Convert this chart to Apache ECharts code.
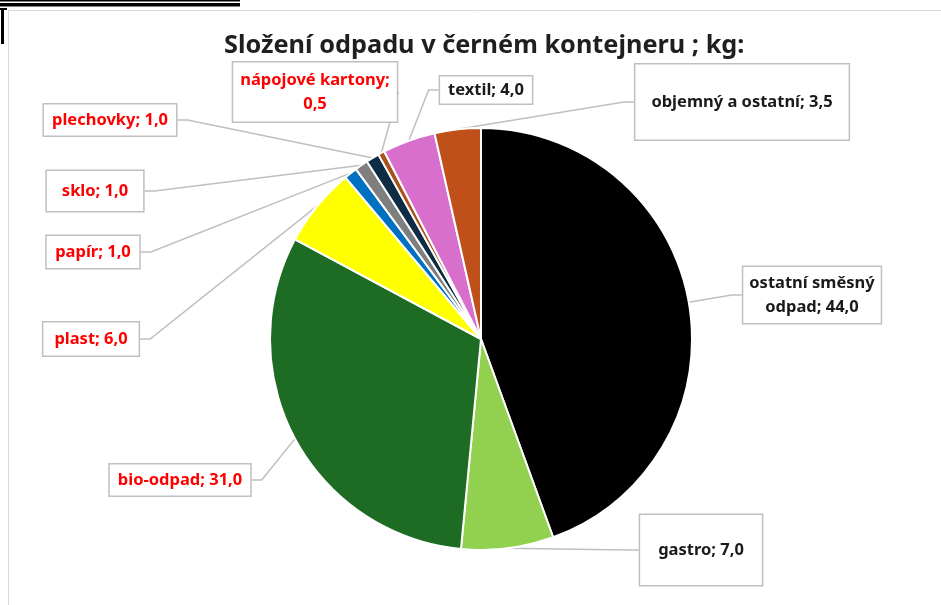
<!DOCTYPE html>
<html>
<head>
<meta charset="utf-8">
<script src="https://cdn.jsdelivr.net/npm/echarts@6/dist/echarts.min.js"></script>
<style>
html,body{margin:0;padding:0;background:#fff;}
#main{width:941px;height:605px;}
</style>
</head>
<body>
<div id="main"></div>
<script>
// ---- data ----
const categories = ['ostatní směsný odpad','gastro','bio-odpad','plast','papír','sklo','plechovky','nápojové kartony','textil','objemný a ostatní'];
const values = [44.0, 7.0, 31.0, 6.0, 1.0, 1.0, 1.0, 0.5, 4.0, 3.5];
const titleText = 'Složení odpadu v černém kontejneru ; kg:';

// ---- styles ----
const sliceColors = ['#000000','#92d050','#1e6b24','#ffff00','#0070c0','#7f7f7f','#0e2d45','#a9521c','#d86fcd','#c0501a'];
const labelColors = ['#1a1a1a','#1a1a1a','#ff0000','#ff0000','#ff0000','#ff0000','#ff0000','#ff0000','#1a1a1a','#1a1a1a'];
// label box centers and paddings (layout)
const labelCenters = [[812,295],[701,550],[180,480],[91,339],[93,252],[95,191],[110,120],[315,92],[486,90],[742,102]];
const labelPads = [[4,6],[23,18],[3.5,8],[4.5,11],[4,8.5],[8,15],[3.5,8],[5.5,7],[1.5,8],[25.5,16]];
// line-break display variants (text layout)
const displayNames = {'ostatní směsný odpad': 'ostatní směsný\nodpad'};
const breakBeforeValue = {'nápojové kartony': true};

const FONT = '"Noto Sans", "Open Sans", sans-serif';
const fmt = v => v.toFixed(1).replace('.', ',');

const data = categories.map((name, i) => ({
  name: name,
  value: values[i],
  itemStyle: { color: sliceColors[i] },
  label: { color: labelColors[i], padding: [labelPads[i][0], labelPads[i][1]] }
}));

const chart = echarts.init(document.getElementById('main'), null, {renderer: 'canvas'});
chart.setOption({
  animation: false,
  backgroundColor: '#ffffff',
  title: {
    text: titleText,
    left: 219,
    top: 28,
    textStyle: { fontFamily: FONT, fontSize: 25.3, fontWeight: 'bold', color: '#1f1f1f' }
  },
  graphic: [
    { type: 'rect', shape: {x: 8.5, y: 10.5, width: 940, height: 600}, style: {fill: 'none', stroke: '#d9d9d9', lineWidth: 1}, silent: true, z: -1 },
    { type: 'rect', shape: {x: 0, y: 0, width: 240, height: 1.5}, style: {fill: '#000'}, silent: true },
    { type: 'rect', shape: {x: 0, y: 3, width: 240, height: 3.5}, style: {fill: '#000'}, silent: true },
    { type: 'rect', shape: {x: 0, y: 8, width: 7, height: 2}, style: {fill: '#000'}, silent: true },
    { type: 'rect', shape: {x: 1, y: 8, width: 3, height: 36}, style: {fill: '#000'}, silent: true }
  ],
  series: [{
    type: 'pie',
    center: [481, 339],
    radius: [0, 211],
    startAngle: 90,
    clockwise: true,
    avoidLabelOverlap: false,
    itemStyle: { borderColor: '#ffffff', borderWidth: 2 },
    label: {
      show: true,
      formatter: p => (displayNames[p.name] || p.name) + ';' + (breakBeforeValue[p.name] ? '\n' : ' ') + fmt(p.value),
      fontFamily: FONT,
      fontSize: 16.5,
      fontWeight: 'bold',
      lineHeight: 24,
      align: 'center',
      backgroundColor: '#ffffff',
      borderColor: '#bfbfbf',
      borderWidth: 1.5
    },
    labelLine: {
      show: true,
      length: 10,
      length2: 10,
      lineStyle: { color: '#bfbfbf', width: 1.5 }
    },
    labelLayout: function (params) {
      const c = labelCenters[params.dataIndex];
      return { x: c[0], y: c[1], align: 'center', verticalAlign: 'middle' };
    },
    data: data
  }]
});
</script>
</body>
</html>
